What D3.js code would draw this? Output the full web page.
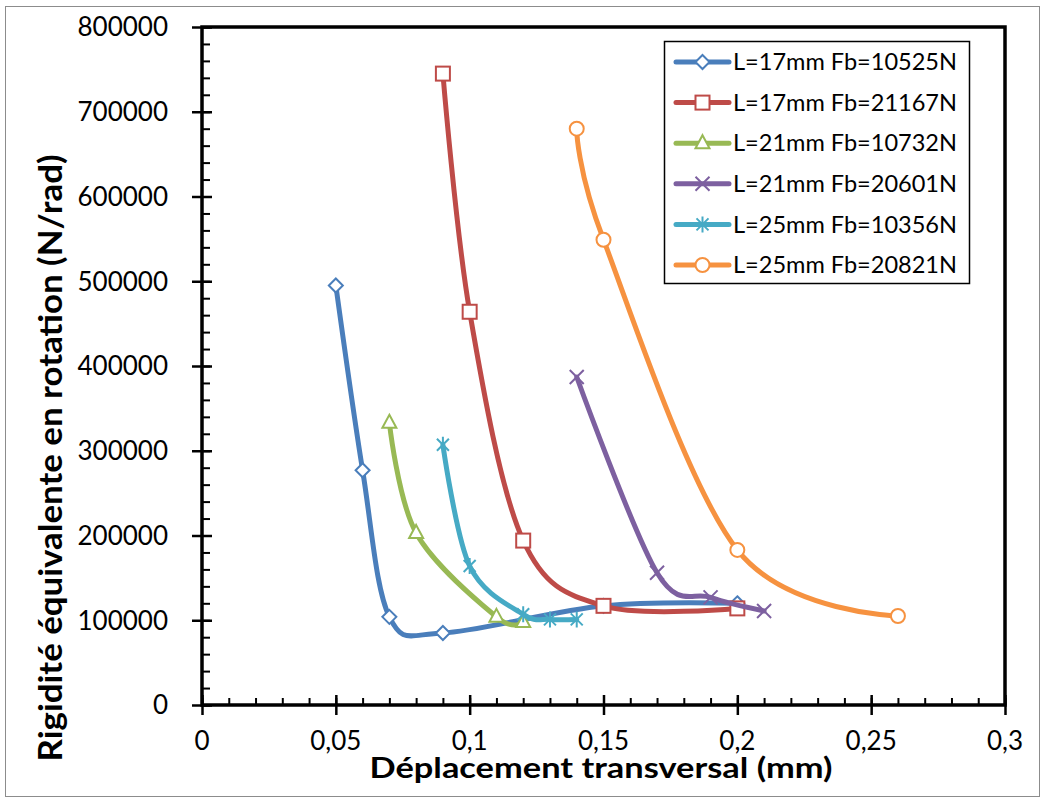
<!doctype html>
<html>
<head>
<meta charset="utf-8">
<style>
  body { margin: 0; background: #fff; }
  text { font-family: Lato, "Open Sans", sans-serif; fill: #000; }
</style>
<script src="https://cdn.jsdelivr.net/npm/d3@7/dist/d3.min.js"></script>
</head>
<body>
<svg width="1043" height="798" id="chart"></svg>
<script>
// data
var seriesNames = ["L=17mm Fb=10525N", "L=17mm Fb=21167N", "L=21mm Fb=10732N",
                   "L=21mm Fb=20601N", "L=25mm Fb=10356N", "L=25mm Fb=20821N"];
var colors = ["#4A7EBB", "#BE4B48", "#98B954", "#7D60A0", "#46AAC5", "#F69240"];
var markers = ["diamond", "square", "triangle", "x", "star", "circle"];

var x17a = [0.05, 0.06, 0.07, 0.09, 0.15, 0.2];
var y17a = [495000, 277000, 104000, 85000, 117000, 120000];
var x17b = [0.09, 0.1, 0.12, 0.15, 0.2];
var y17b = [745000, 464000, 194000, 117000, 114000];
var x21a = [0.07, 0.08, 0.11, 0.12];
var y21a = [333000, 203000, 104000, 98000];
var x21b = [0.14, 0.17, 0.19, 0.21];
var y21b = [387000, 156000, 127000, 111000];
var x25a = [0.09, 0.1, 0.12, 0.13, 0.14];
var y25a = [307000, 164000, 107000, 101000, 101000];
var x25b = [0.14, 0.15, 0.2, 0.26];
var y25b = [680000, 549000, 183000, 105000];

var xTicks = [0, 0.05, 0.1, 0.15, 0.2, 0.25, 0.3];
var yTicks = [0, 100000, 200000, 300000, 400000, 500000, 600000, 700000, 800000];

var allX = [x17a, x17b, x21a, x21b, x25a, x25b];
var allY = [y17a, y17b, y21a, y21b, y25a, y25b];

var svg = d3.select("#chart");
var pLeft = 202, pRight = 1005, pTop = 27, pBottom = 705;

var x = d3.scaleLinear().domain([0, 0.3]).range([pLeft, pRight]);
var y = d3.scaleLinear().domain([0, 800000]).range([pBottom, pTop]);

// outer frame
svg.append("rect").attr("x", 5.5).attr("y", 6.5).attr("width", 1034).attr("height", 790)
   .attr("fill", "#fff").attr("stroke", "#8c8c8c").attr("stroke-width", 1);

// minor ticks (inside)
var g = svg.append("g");
g.append("g").attr("transform", "translate(0," + pBottom + ")")
 .call(d3.axisTop(x).ticks(30).tickSize(7).tickFormat(""))
 .call(function(a) { a.select(".domain").remove(); a.selectAll("line").attr("stroke-width", 2); });
g.append("g").attr("transform", "translate(" + pLeft + ",0)")
 .call(d3.axisRight(y).ticks(40).tickSize(8).tickFormat(""))
 .call(function(a) { a.select(".domain").remove(); a.selectAll("line").attr("stroke-width", 2); });

// major ticks crossing
var xAx = g.append("g").attr("transform", "translate(0," + (pBottom + 10) + ")")
 .call(d3.axisTop(x).tickValues(xTicks).tickSize(20).tickFormat(""));
xAx.select(".domain").remove();
xAx.selectAll("line").attr("stroke-width", 2.5);
var yAx = g.append("g").attr("transform", "translate(" + (pLeft - 10) + ",0)")
 .call(d3.axisRight(y).tickValues(yTicks).tickSize(20).tickFormat(""));
yAx.select(".domain").remove();
yAx.selectAll("line").attr("stroke-width", 2.5);

// plot box
svg.append("rect").attr("x", pLeft).attr("y", pTop).attr("width", pRight - pLeft).attr("height", pBottom - pTop)
   .attr("fill", "none").attr("stroke", "#000").attr("stroke-width", 3.5);

// tick labels
svg.append("g").selectAll("text").data(xTicks).enter().append("text")
   .attr("x", function(d) { return x(d); }).attr("y", 750)
   .attr("text-anchor", "middle").attr("font-size", "26px")
   .text(function(d) { return String(d).replace(".", ","); });
svg.append("g").selectAll("text").data(yTicks).enter().append("text")
   .attr("x", 168).attr("y", function(d) { return y(d); }).attr("dy", "0.36em")
   .attr("text-anchor", "end").attr("font-size", "26px")
   .text(function(d) { return d; });

// axis titles
var xt = svg.append("text").attr("x", 601).attr("y", 778).attr("text-anchor", "middle")
   .attr("font-size", "29px").attr("font-weight", "bold").text("Déplacement transversal (mm)");
var yt = svg.append("text").attr("transform", "translate(62,458) rotate(-90)").attr("text-anchor", "middle")
   .attr("font-size", "33px").attr("font-weight", "bold").text("Rigidité équivalente en rotation (N/rad)");

function fit(t, w) {
  var len = t.node().getComputedTextLength();
  if (Math.abs(len - w) > 4) t.attr("textLength", w).attr("lengthAdjust", "spacingAndGlyphs");
}
fit(xt, 463);
fit(yt, 607);

function drawMarker(sel, type, color) {
  if (type == "diamond") {
    sel.append("path").attr("d", "M0,-7L7,0L0,7L-7,0Z").attr("fill", "#fff").attr("stroke", color).attr("stroke-width", 2);
  } else if (type == "square") {
    sel.append("rect").attr("x", -7).attr("y", -7).attr("width", 14).attr("height", 14)
       .attr("fill", "#fff").attr("stroke", color).attr("stroke-width", 2);
  } else if (type == "triangle") {
    sel.append("path").attr("d", "M0,-8L7,5L-7,5Z").attr("fill", "#fff").attr("stroke", color).attr("stroke-width", 2);
  } else if (type == "x") {
    sel.append("path").attr("d", "M-7,-7L7,7M-7,7L7,-7").attr("stroke", color).attr("stroke-width", 2);
  } else if (type == "star") {
    sel.append("path").attr("d", "M-6,-6L6,6M-6,6L6,-6M0,-8L0,8").attr("stroke", color).attr("stroke-width", 2);
  } else {
    sel.append("circle").attr("r", 7).attr("fill", "#fff").attr("stroke", color).attr("stroke-width", 2);
  }
}

var line = d3.line()
  .x(function(d) { return x(d[0]); })
  .y(function(d) { return y(d[1]); })
  .curve(d3.curveCardinal.tension(0));

allX.forEach(function(xs, i) {
  var pts = xs.map(function(v, j) { return [v, allY[i][j]]; });
  var sg = svg.append("g");
  sg.append("path").datum(pts).attr("d", line)
    .attr("fill", "none").attr("stroke", colors[i]).attr("stroke-width", 5).attr("stroke-linecap", "round");
  pts.forEach(function(p) {
    var m = sg.append("g").attr("transform", "translate(" + x(p[0]) + "," + y(p[1]) + ")");
    drawMarker(m, markers[i], colors[i]);
  });
});

// legend
var leg = svg.append("g");
leg.append("rect").attr("x", 664.5).attr("y", 41.5).attr("width", 305).attr("height", 242)
   .attr("fill", "#fff").attr("stroke", "#000").attr("stroke-width", 1.5);
seriesNames.forEach(function(name, i) {
  var cy = 62 + i * 40.6;
  leg.append("line").attr("x1", 676).attr("x2", 729).attr("y1", cy).attr("y2", cy)
     .attr("stroke", colors[i]).attr("stroke-width", 5).attr("stroke-linecap", "round");
  var m = leg.append("g").attr("transform", "translate(702.5," + cy + ")");
  drawMarker(m, markers[i], colors[i]);
  var t = leg.append("text").attr("x", 733).attr("y", cy).attr("dy", "0.36em")
     .attr("font-size", "23px").text(name);
  fit(t, 224);
});
</script>
</body>
</html>
